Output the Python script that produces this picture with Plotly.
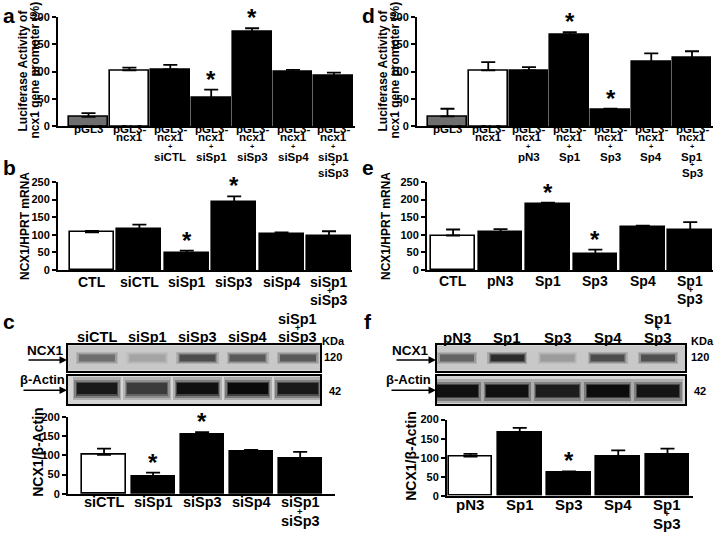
import plotly.graph_objects as go

W, H = 720, 539
FONT = "Arial, Liberation Sans, Helvetica, sans-serif"

# ---------------- data ----------------
a_cats = ["pGL3", "pGL3-|ncx1", "pGL3-|ncx1|+|siCTL", "pGL3-|ncx1|+|siSp1",
          "pGL3-|ncx1|+|siSp3", "pGL3-|ncx1|+|siSp4", "pGL3-|ncx1|+|siSp1|+|siSp3"]
a_means = [17, 102, 104, 52, 172, 99, 92]
a_errs = [7, 5, 8, 15, 7, 4, 6]
a_stars = [3, 4]

d_cats = ["pGL3", "pGL3-|ncx1", "pGL3-|ncx1|+|pN3", "pGL3-|ncx1|+|Sp1",
          "pGL3-|ncx1|+|Sp3", "pGL3-|ncx1|+|Sp4", "pGL3-|ncx1|+|Sp1|+|Sp3"]
d_means = [18, 102, 102, 168, 30, 117, 125]
d_errs = [14, 15, 6, 4, 2, 16, 12]
d_stars = [3, 4]

b_cats = ["CTL", "siCTL", "siSp1", "siSp3", "siSp4", "siSp1|+|siSp3"]
b_means = [107, 117, 47, 192, 101, 96]
b_errs = [4, 12, 8, 17, 6, 14]
b_stars = [2, 3]

e_cats = ["CTL", "pN3", "Sp1", "Sp3", "Sp4", "Sp1|+|Sp3"]
e_means = [98, 107, 187, 46, 122, 114]
e_errs = [17, 9, 4, 12, 4, 22]
e_stars = [2, 3]

c_cats = ["siCTL", "siSp1", "siSp3", "siSp4", "siSp1|+|siSp3"]
c_means = [101, 45, 153, 110, 92]
c_errs = [16, 10, 7, 4, 17]
c_stars = [1, 2]
c_ncx1_band = [0.45, 0.18, 0.62, 0.55, 0.55]
c_actin_band = [0.88, 0.72, 0.92, 0.95, 0.88]

f_cats = ["pN3", "Sp1", "Sp3", "Sp4", "Sp1|+|Sp3"]
f_means = [103, 165, 60, 103, 108]
f_errs = [7, 13, 4, 16, 16]
f_stars = [2]
f_ncx1_band = [0.5, 0.78, 0.22, 0.62, 0.6]
f_actin_band = [0.92, 0.92, 0.86, 0.94, 0.9]

# ---------------- helpers ----------------
def fx(px):
    return px / W

def fy(py):
    return 1 - py / H

fig = go.Figure()
layout = {}
annotations = []
shapes = []


def axnames(idx):
    return ("x" if idx == 1 else f"x{idx}", "y" if idx == 1 else f"y{idx}")


def label_font(t, size):
    s = size * 0.65 if t == "+" else size
    return dict(family=FONT, size=s, color="black", weight="bold")


def bar_panel(idx, cats, means, errs, fills, xpx, ypx, xrange, yrange, dtick,
              bw, label_ys, label_size, stars):
    xa, ya = axnames(idx)
    n = len(cats)
    fig.add_trace(go.Bar(
        x=list(range(n)), y=means, width=bw, xaxis=xa, yaxis=ya,
        marker=dict(color=fills, line=dict(color="black", width=1.6)),
        error_y=dict(type="data", symmetric=False, array=errs,
                     arrayminus=[0] * n, color="black", thickness=1.8, width=7),
        showlegend=False, hoverinfo="skip"))
    layout["xaxis" if idx == 1 else f"xaxis{idx}"] = dict(
        domain=[fx(xpx[0]), fx(xpx[1])], range=xrange, anchor=ya,
        showline=True, linecolor="black", linewidth=2, ticks="",
        showticklabels=False, showgrid=False, zeroline=False, fixedrange=True)
    layout["yaxis" if idx == 1 else f"yaxis{idx}"] = dict(
        domain=[fy(ypx[0]), fy(ypx[1])], range=yrange, anchor=xa,
        showline=True, linecolor="black", linewidth=2, ticks="outside",
        ticklen=4, tickwidth=1.8, tickcolor="black", dtick=dtick, tick0=0,
        tickfont=dict(family=FONT, size=11, color="black", weight="bold"),
        showgrid=False, zeroline=False, fixedrange=True)
    for i, c in enumerate(cats):
        lines = c.split("|")
        for k, t in enumerate(lines):
            annotations.append(dict(
                x=i, y=fy(label_ys[k]), xref=xa, yref="paper", text=t,
                showarrow=False, xanchor="center", yanchor="middle",
                font=label_font(t, label_size)))
    for s in stars:
        annotations.append(dict(
            x=s, y=means[s] + errs[s], xref=xa, yref=ya, text="*",
            showarrow=False, xanchor="center", yanchor="bottom", yshift=-5,
            font=dict(family=FONT, size=24, color="black", weight="bold")))


def blot(idx, vals, xpx, ypx, xrange, center, height, bw, bg):
    xa, ya = axnames(idx)
    n = len(vals)
    layers = [(1.2, 2.0, 0.2), (1.12, 1.6, 0.3), (1.05, 1.25, 0.5), (1.0, 1.0, 1.0)]
    for wmul, hmul, op in layers:
        cols = []
        for v in vals:
            g = int(bg * (1 - v))
            cols.append(f"rgb({g},{g},{g})")
        h = height * hmul
        fig.add_trace(go.Bar(
            x=list(range(n)), y=[h] * n, base=[center - h / 2] * n,
            width=bw * wmul, xaxis=xa, yaxis=ya, opacity=op,
            marker=dict(color=cols, line=dict(width=0)),
            showlegend=False, hoverinfo="skip"))
    shapes.append(dict(type="rect", xref=f"{xa} domain", yref=f"{ya} domain",
                       x0=0, x1=1, y0=0, y1=1, fillcolor=f"rgb({bg},{bg},{bg})",
                       line=dict(width=0), layer="below"))
    common = dict(showline=True, mirror=True, linecolor="black", linewidth=2,
                  ticks="", showticklabels=False, showgrid=False,
                  zeroline=False, fixedrange=True)
    layout["xaxis" if idx == 1 else f"xaxis{idx}"] = dict(
        domain=[fx(xpx[0]), fx(xpx[1])], range=xrange, anchor=ya, **common)
    layout["yaxis" if idx == 1 else f"yaxis{idx}"] = dict(
        domain=[fy(ypx[1]), fy(ypx[0])], range=[0, 1], anchor=xa, **common)


def text(px, py, t, size, angle=0, xanchor="center", yanchor="middle"):
    annotations.append(dict(
        x=fx(px), y=fy(py), xref="paper", yref="paper", text=t,
        showarrow=False, xanchor=xanchor, yanchor=yanchor, textangle=angle,
        font=dict(family=FONT, size=size, color="black", weight="bold")))


def arrow(px0, px1, py):
    annotations.append(dict(
        x=fx(px1), y=fy(py), xref="paper", yref="paper", text="",
        showarrow=True, ax=px0 - px1, ay=0, arrowhead=2, arrowsize=1,
        arrowwidth=1.5, arrowcolor="black"))


def fills(n, gray=None, white=0):
    out = []
    for i in range(n):
        if gray is not None and i == gray:
            out.append("#6f6f6f")
        elif i == white:
            out.append("white")
        else:
            out.append("black")
    return out

# ---------------- panels ----------------
ys_a = [126, 134, 144, 154, 162, 171]
bar_panel(1, a_cats, a_means, a_errs, fills(7, gray=0, white=1),
          (58, 355), (123, 11), [-0.746, 6.516], [0, 200], 50, 0.95,
          ys_a, 11.5, a_stars)
bar_panel(2, d_cats, d_means, d_errs, fills(7, gray=0, white=1),
          (417, 713), (123, 11), [-0.748, 6.515], [0, 200], 50, 0.95,
          ys_a, 11.5, d_stars)
bar_panel(3, b_cats, b_means, b_errs, fills(6, white=0),
          (58, 352), (270, 180), [-0.717, 5.485], [0, 250], 50, 0.93,
          [282, 291, 301], 14, b_stars)
bar_panel(4, e_cats, e_means, e_errs, fills(6, white=0),
          (427, 713), (270, 180), [-0.55, 5.48], [0, 250], 50, 0.92,
          [281, 290, 300], 14, e_stars)
bar_panel(5, c_cats, c_means, c_errs, fills(5, white=0),
          (68, 335), (499, 420), [-0.735, 4.71], [0, 200], 50, 0.88,
          [507, 517, 527], 14.5, c_stars)
bar_panel(6, f_cats, f_means, f_errs, fills(5, white=0),
          (447, 693), (501, 423), [-0.477, 4.518], [0, 200], 50, 0.89,
          [510, 519, 529], 15, f_stars)

blot(7, c_ncx1_band, (68, 320), (347, 373), [-0.577, 4.438], 0.5, 0.24, 0.7, 200)
blot(8, c_actin_band, (68, 320), (378, 407), [-0.577, 4.438], 0.55, 0.4, 0.8, 212)
blot(9, f_ncx1_band, (437, 685), (347, 373), [-0.398, 4.537], 0.5, 0.24, 0.66, 200)
blot(10, f_actin_band, (437, 685), (378, 407), [-0.398, 4.537], 0.47, 0.42, 0.84, 212)


def lane_labels(idx, cats, ys, size):
    xa, _ = axnames(idx)
    for i, c in enumerate(cats):
        lines = c.split("|")
        off = len(ys) - len(lines)
        for k, t in enumerate(lines):
            annotations.append(dict(
                x=i, y=fy(ys[off + k]), xref=xa, yref="paper", text=t,
                showarrow=False, xanchor="center", yanchor="middle",
                font=label_font(t, size)))

lane_labels(7, c_cats, [320, 329, 339], 14.5)
lane_labels(9, f_cats, [320, 329, 339], 15)

# blot side labels
text(45, 352, "NCX1", 13.5)
arrow(27, 67, 362)
text(42, 382, "β-Actin", 13)
arrow(22, 67, 393)
text(333, 343, "KDa", 11)
text(333, 359, "120", 11)
text(335, 394, "42", 11)

text(410, 352, "NCX1", 13.5)
arrow(395, 436, 362)
text(408, 382, "β-Actin", 13)
arrow(390, 436, 393)
text(702, 343, "KDa", 11)
text(700, 359, "120", 11)
text(700, 394, "42", 11)

# axis titles
text(23, 66, "Luciferase Activity of", 12, angle=-90)
text(35, 66, "ncx1 gene promoter (%)", 12, angle=-90)
text(383, 66, "Luciferase Activity of", 12, angle=-90)
text(395, 66, "ncx1 gene promoter (%)", 12, angle=-90)
text(25, 225, "NCX1/HPRT mRNA", 12, angle=-90)
text(386, 225, "NCX1/HPRT mRNA", 12, angle=-90)
text(38, 457, "NCX1/β-Actin", 14, angle=-90)
text(411, 461, "NCX1/β-Actin", 14, angle=-90)

# panel letters
text(9, 10, "a", 21)
text(368, 10, "d", 21)
text(9, 165, "b", 21)
text(368, 165, "e", 21)
text(9, 323, "c", 21)
text(368, 323, "f", 21)

layout.update(dict(
    width=W, height=H, margin=dict(l=0, r=0, t=0, b=0),
    paper_bgcolor="white", plot_bgcolor="rgba(0,0,0,0)",
    barmode="overlay", bargap=0, showlegend=False,
    annotations=annotations, shapes=shapes,
    font=dict(family=FONT, color="black")))
fig.update_layout(**layout)
fig.write_html("out.html", config={"displayModeBar": False},
               post_script="document.body.style.margin='0px';"
                           "document.body.style.padding='0px';")
